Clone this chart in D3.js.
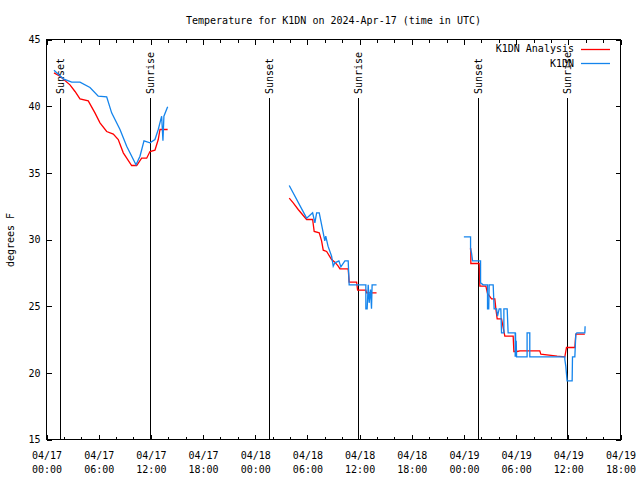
<!DOCTYPE html>
<html><head><meta charset="utf-8">
<script src="https://cdn.jsdelivr.net/npm/d3@7"></script>
<style>
body{margin:0;background:#fff;}
svg{display:block;font-family:"DejaVu Sans Mono",monospace;font-size:10px;}
</style></head>
<body><svg id="c" width="640" height="480"></svg>
<script>
// hours since 2024-04-17 00:00 UTC; null = gap between days
const analysisHours = [0.86,1.55,2.70,3.28,3.85,4.80,5.57,6.15,6.92,7.68,8.25,8.83,9.79,10.37,10.94,11.52,11.90,12.47,12.85,13.05,13.93,
  null,
  27.91,28.37,28.94,29.91,30.60,30.78,31.36,31.63,31.82,32.21,32.59,32.78,33.16,33.54,33.74,34.69,34.80,35.66,35.77,36.72,36.80,37.95,
  null,
  48.68,48.79,48.79,49.75,49.83,50.52,50.71,51.17,51.55,51.67,51.82,52.32,52.70,53.66,53.74,54.11,54.43,56.72,56.84,58.71,59.60,59.79,60.75,60.86,61.90];
const analysisTemps = [42.5,42.25,41.6,41.1,40.55,40.4,39.5,38.75,38.1,37.9,37.5,36.5,35.55,35.55,36.1,36.1,36.6,36.7,37.5,38.25,38.25,
  null,
  33.1,32.75,32.25,31.5,31.5,30.6,30.5,29.9,29.2,29.1,28.7,28.5,28.3,28.0,27.8,27.8,26.8,26.8,26.2,26.2,26.0,26.0,
  null,
  29.3,29.3,28.2,28.2,26.5,26.5,25.95,25.55,25.55,24.8,24.05,24.05,22.75,22.75,21.6,21.6,21.65,21.65,21.4,21.25,21.2,21.9,21.9,22.9,22.9];

const stationHours = [0.86,1.93,2.90,3.85,5.00,5.95,6.92,7.49,8.45,9.22,10.29,10.75,11.21,11.90,12.47,12.85,13.24,13.39,13.50,13.93,
  null,
  27.91,29.91,30.60,30.86,31.06,31.36,31.82,32.00,32.11,32.37,32.78,32.97,33.16,33.62,33.85,34.31,34.69,34.80,36.72,36.72,36.87,36.99,37.10,37.26,37.37,37.44,37.95,
  null,
  47.99,48.76,48.76,48.87,48.99,49.91,49.91,50.21,50.71,50.71,50.85,50.90,51.36,51.47,51.75,51.86,52.05,52.24,52.32,52.59,52.59,52.97,53.08,53.89,53.89,53.93,53.97,54.01,54.05,55.26,55.26,55.57,55.57,59.60,59.60,59.71,59.86,60.44,60.48,60.75,60.86,60.98,61.90,61.93];
const stationTemps = [42.7,42.05,41.8,41.8,41.4,40.75,40.7,39.5,38.25,37.0,35.6,36.25,37.4,37.25,37.5,38.25,39.25,37.4,39.25,39.95,
  null,
  34.05,31.6,32.0,31.25,32.0,32.0,30.5,29.9,30.25,29.5,28.75,28.0,28.25,28.4,27.95,28.4,28.4,26.6,26.6,24.8,24.8,26.6,25.25,26.25,24.8,26.6,26.6,
  null,
  30.2,30.2,29.25,29.0,28.4,28.4,26.75,26.6,26.6,24.8,24.8,26.6,26.6,24.8,24.8,24.25,24.8,24.8,23.0,23.0,24.8,24.8,23.0,23.0,21.2,23.0,21.2,22.4,21.2,21.2,23.0,23.0,21.2,21.2,21.0,20.5,19.4,19.4,21.2,21.2,22.9,23.0,23.0,23.5];

const sunsetHours = [1.55, 25.57, 49.58];
const sunriseHours = [11.90, 35.87, 59.83];
const yTicks = [15,20,25,30,35,40,45];
const seriesNames = ["K1DN Analysis","K1DN"];
const seriesColors = ["#ff0000","#1484ec"];
const titleText = "Temperature for K1DN on 2024-Apr-17 (time in UTC)";

const start = Date.UTC(2024,3,17,0,0);
const toDate = h => new Date(start + h*3600000);

const L=46.5, R=620.5, T=39.5, B=439.5;
const svg = d3.select("#c");
const x = d3.scaleUtc().domain([toDate(0), toDate(66)]).range([L,R]);
const y = d3.scaleLinear().domain([15,45]).range([B,T]);

// title
svg.append("text").attr("x",(L+R)/2).attr("y",20).attr("text-anchor","middle")
  .attr("dominant-baseline","central").text(titleText);

// y label
svg.append("text").attr("transform","translate(10,240) rotate(-90)")
  .attr("text-anchor","middle").attr("dominant-baseline","central").text("degrees F");

// axes
const fmtD = d3.utcFormat("%m/%d"), fmtT = d3.utcFormat("%H:%M");
const xb = svg.append("g").attr("transform",`translate(0,${B})`)
  .call(d3.axisBottom(x).ticks(d3.utcHour.every(6)).tickSize(-5).tickPadding(10).tickFormat(""));
xb.selectAll(".tick").each(function(d){
  const g=d3.select(this);
  g.append("text").attr("y",15.5).attr("text-anchor","middle").attr("dominant-baseline","central").attr("fill","#000").text(fmtD(d));
  g.append("text").attr("y",29.5).attr("text-anchor","middle").attr("dominant-baseline","central").attr("fill","#000").text(fmtT(d));
});
svg.append("g").attr("transform",`translate(0,${B})`)
  .call(d3.axisBottom(x).ticks(d3.utcHour.every(2)).tickSize(-3).tickFormat(""));
svg.append("g").attr("transform",`translate(0,${T})`)
  .call(d3.axisTop(x).ticks(d3.utcHour.every(6)).tickSize(-5).tickFormat(""));
svg.append("g").attr("transform",`translate(0,${T})`)
  .call(d3.axisTop(x).ticks(d3.utcHour.every(2)).tickSize(-3).tickFormat(""));
svg.append("g").attr("transform",`translate(${L},0)`)
  .call(d3.axisLeft(y).tickValues(yTicks).tickSize(-5).tickPadding(6))
  .selectAll("text").attr("font-family","DejaVu Sans Mono").attr("font-size",10);
svg.append("g").attr("transform",`translate(${R},0)`)
  .call(d3.axisRight(y).tickValues(yTicks).tickSize(-5).tickFormat(""));
svg.selectAll(".domain").remove();
svg.selectAll(".tick line").attr("stroke","#000").attr("shape-rendering","crispEdges");
svg.selectAll("g").attr("font-family",null).attr("font-size",null);

svg.append("rect").attr("x",L).attr("y",T).attr("width",R-L).attr("height",B-T)
  .attr("fill","none").attr("stroke","#000").attr("shape-rendering","crispEdges");

// sunset / sunrise markers
function marker(h,label){
  const xx = Math.round(x(toDate(h)))+0.5;
  svg.append("line").attr("x1",xx).attr("x2",xx).attr("y1",98).attr("y2",B)
    .attr("stroke","#000").attr("shape-rendering","crispEdges");
  svg.append("text").attr("transform",`translate(${xx},94) rotate(-90)`)
    .attr("dominant-baseline","central").text(label);
}
sunsetHours.forEach(h=>marker(h,"Sunset"));
sunriseHours.forEach(h=>marker(h,"Sunrise"));

// lines
const line = d3.line().defined(d=>d[0]!=null).x(d=>x(toDate(d[0]))).y(d=>y(d[1]));
const aData = analysisHours.map((h,i)=>[h,analysisTemps[i]]);
const sData = stationHours.map((h,i)=>[h,stationTemps[i]]);
svg.append("path").attr("d",line(aData)).attr("fill","none").attr("stroke",seriesColors[0]).attr("stroke-width",1.3);
svg.append("path").attr("d",line(sData)).attr("fill","none").attr("stroke",seriesColors[1]).attr("stroke-width",1.3);

// legend
seriesNames.forEach((n,i)=>{
  const yy = 48.5 + i*14.5;
  svg.append("text").attr("x",574).attr("y",yy).attr("text-anchor","end").attr("dominant-baseline","central").text(n);
  svg.append("line").attr("x1",581).attr("x2",610).attr("y1",Math.round(yy)+0.5).attr("y2",Math.round(yy)+0.5)
    .attr("stroke",seriesColors[i]).attr("stroke-width",1.3);
});
</script></body></html>
